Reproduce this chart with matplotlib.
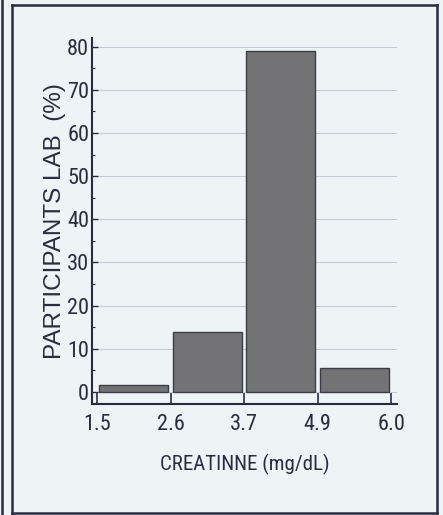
import matplotlib.pyplot as plt
from matplotlib.lines import Line2D
from matplotlib.ticker import MultipleLocator
from matplotlib import font_manager

# bins of creatinine (mg/dL) and share of participant labs (%)
bin_edges = ['1.5', '2.6', '3.7', '4.9', '6.0']
percent = [1.5, 14, 79, 5.5]

names = {f.name for f in font_manager.fontManager.ttflist}
narrow = 'Liberation Sans'
for cand in ['Liberation Sans Narrow', 'Roboto Condensed', 'DejaVu Sans Condensed', 'Open Sans Condensed']:
    if cand in names:
        narrow = cand
        break

bg = '#eef3f6'
ink = '#2a2c40'

fig = plt.figure(figsize=(4.43, 5.15), dpi=100, facecolor=bg)
ax = fig.add_axes([0.2077, 0.2155, 0.6885, 0.7105], facecolor=bg)

pos = [i + 0.5 for i in range(len(percent))]
ax.bar(pos, percent, width=0.94, color='#737376', edgecolor='#3c3c44', linewidth=1.0, zorder=3)

ax.set_xlim(-0.068, 4.08)
ax.set_ylim(-2.8, 82)
ax.set_xticks(range(len(bin_edges)))
ax.set_xticklabels(bin_edges, fontsize=16, family=narrow, color=ink)
ax.yaxis.set_major_locator(MultipleLocator(10))
ax.yaxis.set_minor_locator(MultipleLocator(5))
for t in ax.get_yticklabels():
    t.set_fontsize(16)
    t.set_family(narrow)
    t.set_color(ink)

ax.tick_params(axis='x', direction='in', length=8, width=1.2, color=ink, pad=7)
ax.tick_params(axis='y', which='major', direction='in', length=4, width=1.0, color=ink, pad=2)
ax.tick_params(axis='y', which='minor', direction='in', length=2.5, width=0.8, color=ink)

ax.grid(axis='y', color='#c4c8d0', linewidth=0.7, zorder=0)
for s in ['top', 'right']:
    ax.spines[s].set_visible(False)
for s in ['left', 'bottom']:
    ax.spines[s].set_color(ink)
    ax.spines[s].set_linewidth(1.5)

ax.set_ylabel('PARTICIPANTS LAB  (%)', fontsize=17.5, family='Liberation Sans', color=ink, labelpad=1)
ax.set_xlabel('CREATINNE (mg/dL)', fontsize=15, family=narrow, color=ink, labelpad=14)

# outer frame of the scanned figure
W, H = 443.0, 515.0
frame = [((2, 2), (0, H)), ((12, 12), (4.5, H)), ((12, 437), (4.5, 4.5)),
         ((436.5, 436.5), (4.5, 512.5)), ((12, 437), (512.5, 512.5))]
for xs, ys in frame:
    fig.add_artist(Line2D([x / W for x in xs], [1 - y / H for y in ys], color=ink, linewidth=1.8))

fig.savefig('out.png', dpi=100, facecolor=bg)
